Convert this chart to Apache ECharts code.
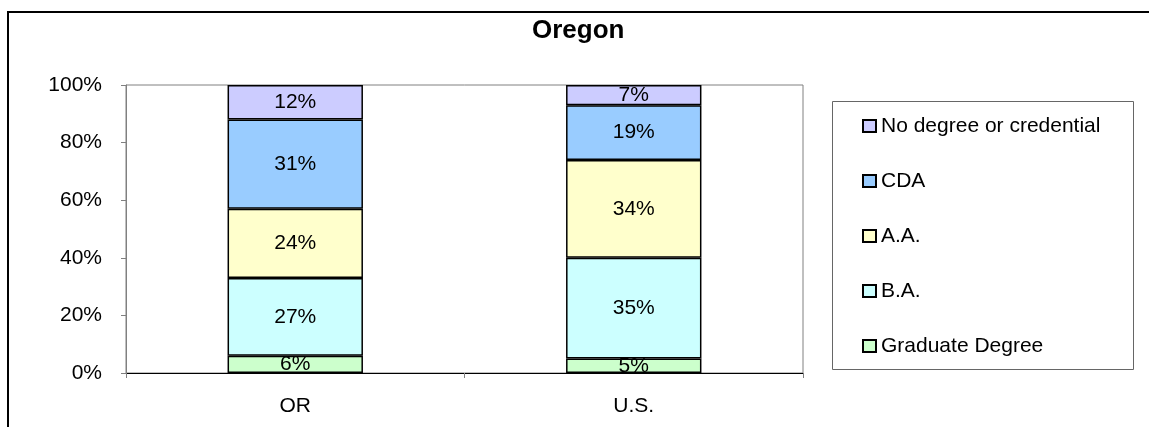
<!DOCTYPE html>
<html>
<head>
<meta charset="utf-8">
<script src="https://cdn.jsdelivr.net/npm/echarts@6/dist/echarts.min.js"></script>
<style>
html,body{margin:0;padding:0;background:#fff;}
#chart{width:1149px;height:427px;}
</style>
</head>
<body>
<div id="chart"></div>
<script>
const title = 'Oregon';
const categories = ['OR', 'U.S.'];
const seriesNames = ['Graduate Degree', 'B.A.', 'A.A.', 'CDA', 'No degree or credential'];
const graduate = [6, 5];
const ba = [27, 35];
const aa = [24, 34];
const cda = [31, 19];
const noDegree = [12, 7];
const yTicks = [0, 20, 40, 60, 80, 100];

const seriesValues = [graduate, ba, aa, cda, noDegree];
const colors = ['#CCFFCC', '#CCFFFF', '#FFFFCC', '#99CCFF', '#CCCCFF'];
const FONT = '"Liberation Sans", Arial, sans-serif';

const chart = echarts.init(document.getElementById('chart'), null, {renderer: 'canvas'});
chart.setOption({
  animation: false,
  backgroundColor: '#fff',
  textStyle: {fontFamily: FONT},
  title: {
    text: title,
    left: 532,
    top: 18,
    padding: 0,
    textStyle: {fontFamily: FONT, fontSize: 26, fontWeight: 'bold', color: '#000'}
  },
  graphic: [
    {type: 'rect', shape: {x: 8, y: 12, width: 1300, height: 600}, style: {fill: 'none', stroke: '#000', lineWidth: 2}, z: 100},
    {type: 'rect', shape: {x: 832.5, y: 101.5, width: 301, height: 268}, style: {fill: 'none', stroke: '#666', lineWidth: 1}, z: 100}
  ],
  legend: {
    orient: 'vertical',
    left: 862,
    top: 115,
    padding: 0,
    itemWidth: 13,
    itemHeight: 12,
    itemGap: 33,
    icon: 'rect',
    data: seriesNames.slice().reverse(),
    textStyle: {fontFamily: FONT, fontSize: 21, color: '#000', lineHeight: 22}
  },
  grid: {
    left: 126, top: 85, right: 346, bottom: 54,
    show: true, borderColor: '#808080', borderWidth: 1, backgroundColor: 'transparent',
    containLabel: false
  },
  xAxis: {
    type: 'category',
    data: categories,
    axisLine: {lineStyle: {color: '#000', width: 1}},
    axisTick: {show: true, length: 5, lineStyle: {color: '#808080'}},
    axisLabel: {fontFamily: FONT, fontSize: 21, color: '#000', margin: 23}
  },
  yAxis: {
    type: 'value',
    min: yTicks[0],
    max: yTicks[yTicks.length - 1],
    interval: yTicks[1] - yTicks[0],
    axisLine: {show: true, lineStyle: {color: '#808080'}},
    axisTick: {show: true, length: 5, lineStyle: {color: '#808080'}},
    splitLine: {show: false},
    axisLabel: {fontFamily: FONT, fontSize: 21, color: '#000', margin: 24, formatter: v => v + '%'}
  },
  series: seriesNames.map((name, i) => ({
    name: name,
    type: 'bar',
    stack: 'total',
    barWidth: '40%',
    data: seriesValues[i],
    itemStyle: {color: colors[i], borderColor: '#000', borderWidth: 1.5},
    label: {
      show: true,
      position: 'inside',
      fontFamily: FONT,
      fontSize: 21,
      color: '#000',
      formatter: p => p.value + '%'
    }
  }))
});
</script>
</body>
</html>
